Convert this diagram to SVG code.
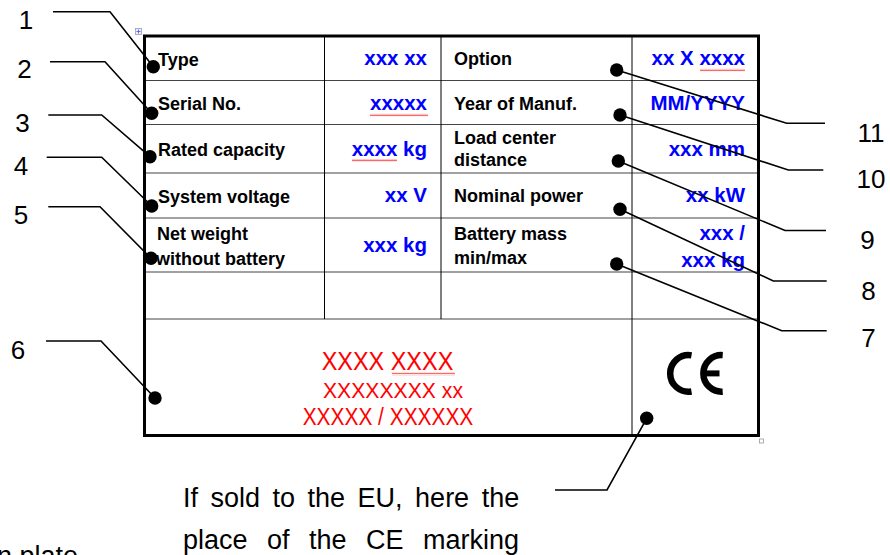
<svg xmlns="http://www.w3.org/2000/svg" width="890" height="555" viewBox="0 0 890 555">
<defs>
<pattern id="wavy" width="2" height="3" patternUnits="userSpaceOnUse">
<path d="M0,2.4 L1,0.6 L2,2.4" fill="none" stroke="#ff0000" stroke-width="0.6"/>
</pattern>
<style>
.num{font-family:"Liberation Sans",Arial,sans-serif;font-size:26px;fill:#000;text-anchor:middle}
.lbl{font-family:"Liberation Sans",Arial,sans-serif;font-size:18px;font-weight:bold;fill:#000}
.val{font-family:"Liberation Sans",Arial,sans-serif;font-size:20.5px;font-weight:bold;fill:#0000ff;text-anchor:end}
.red{font-family:"Liberation Sans Narrow","Arial Narrow","Liberation Sans",sans-serif;fill:#ff0000}
.note{font-family:"Liberation Sans",Arial,sans-serif;font-size:27px;fill:#000}
.conn{fill:none;stroke:#000;stroke-width:1.6}
.dot{fill:#000}
.grid{stroke:#444;stroke-width:1.2}
.wav{fill:url(#wavy)}
</style>
</defs>
<rect width="890" height="555" fill="#fff"/>

<g id="nameplate">
<rect x="135.5" y="28.5" width="6" height="6" fill="#eef0ff" stroke="#99a" stroke-width="0.8"/>
<path d="M138.5,29.5 V33.5 M136.5,31.5 H140.5" stroke="#3355ff" stroke-width="0.8"/>
<g class="grid">
<line x1="145" y1="80.5" x2="758" y2="80.5"/>
<line x1="145" y1="124.5" x2="758" y2="124.5"/>
<line x1="145" y1="173" x2="758" y2="173"/>
<line x1="145" y1="218" x2="758" y2="218"/>
<line x1="145" y1="272" x2="758" y2="272"/>
<line x1="145" y1="319" x2="758" y2="319"/>
<line x1="324.5" y1="36" x2="324.5" y2="319" stroke="#000" stroke-width="1"/>
<line x1="441" y1="36" x2="441" y2="319" stroke="#000" stroke-width="1"/>
<line x1="632" y1="36" x2="632" y2="436" stroke="#000" stroke-width="1"/>
</g>
<rect x="144.5" y="36" width="614" height="399.5" fill="none" stroke="#000" stroke-width="3"/>
<rect x="759.5" y="439" width="4" height="4" fill="#fff" stroke="#999" stroke-width="0.8"/>

<g id="row-type">
<text class="lbl" x="158" y="65.5">Type</text>
<text class="val" x="427" y="65">xxx xx</text>
<text class="lbl" x="454" y="65">Option</text>
<text class="val" x="745" y="65">xx X xxxx</text>
<rect class="wav" x="700" y="68.5" width="45" height="3"/>
</g>
<g id="row-serial">
<text class="lbl" x="158" y="110">Serial No.</text>
<text class="val" x="427" y="110">xxxxx</text>
<rect class="wav" x="370" y="113.5" width="58" height="3"/>
<text class="lbl" x="454" y="110">Year of Manuf.</text>
<text class="val" x="745" y="110">MM/YYYY</text>
</g>
<g id="row-capacity">
<text class="lbl" x="158" y="156">Rated capacity</text>
<text class="val" x="427" y="156">xxxx kg</text>
<rect class="wav" x="352" y="159" width="45" height="3"/>
<text class="lbl" x="454" y="144">Load center</text>
<text class="lbl" x="454" y="166">distance</text>
<text class="val" x="745" y="156">xxx mm</text>
</g>
<g id="row-voltage">
<text class="lbl" x="158" y="202.5">System voltage</text>
<text class="val" x="427" y="202">xx V</text>
<text class="lbl" x="454" y="202">Nominal power</text>
<text class="val" x="745" y="202">xx kW</text>
</g>
<g id="row-weight">
<text class="lbl" x="157" y="240">Net weight</text>
<text class="lbl" x="156" y="264.5">without battery</text>
<text class="val" x="427" y="252">xxx kg</text>
<text class="lbl" x="454" y="240">Battery mass</text>
<text class="lbl" x="454" y="263.5">min/max</text>
<text class="val" x="745" y="240">xxx /</text>
<text class="val" x="745" y="267">xxx kg</text>
</g>
<g id="manufacturer">
<text class="red" x="321.7" y="370" font-size="25" textLength="131.6" lengthAdjust="spacingAndGlyphs">XXXX XXXX</text>
<rect class="wav" x="392" y="372.5" width="63" height="3"/>
<text class="red" x="323" y="397.7" font-size="21.5" textLength="140" lengthAdjust="spacingAndGlyphs">XXXXXXXX xx</text>
<text class="red" x="302.7" y="425" font-size="23" textLength="170.6" lengthAdjust="spacingAndGlyphs">XXXXX / XXXXXX</text>
</g>
<g id="ce-mark" fill="none" stroke="#000" stroke-width="6.5">
<path d="M691.5,355.35 A18.3,18.3 0 1 0 691.5,391.45"/>
<path d="M722.7,355.13 A18.3,18.3 0 1 0 722.7,391.67"/>
<line x1="704" y1="373.4" x2="719.5" y2="373.4" stroke-width="6"/>
</g>
</g>

<g id="connectors" class="conn">
<polyline points="53,11.7 110,11.7 153.3,66.7"/>
<polyline points="50,61.7 105,61.7 151.7,113.3"/>
<polyline points="48.3,115 101.7,115 150,156.7"/>
<polyline points="46.7,157.3 101.7,157.3 151.7,206"/>
<polyline points="48.3,206.7 100,206.7 151,258.3"/>
<polyline points="46,341 101,341 155,398"/>
<polyline points="616.7,70 786.7,123.3 825,123.3"/>
<polyline points="620,115 788.3,170 823.3,170"/>
<polyline points="618.3,161 785,230.5 826,230.5"/>
<polyline points="620,209.3 773.3,281 826.7,281"/>
<polyline points="616.7,264 781.7,330.7 826.7,330.7"/>
<polyline points="646.7,418.3 607,490 555,490"/>
</g>

<g id="callout-1"><text class="num" x="26" y="28.5">1</text><circle class="dot" cx="153.3" cy="66.7" r="6.7"/></g>
<g id="callout-2"><text class="num" x="24.5" y="78">2</text><circle class="dot" cx="151.7" cy="113.3" r="6.7"/></g>
<g id="callout-3"><text class="num" x="22.5" y="131.5">3</text><circle class="dot" cx="150" cy="156.7" r="6.7"/></g>
<g id="callout-4"><text class="num" x="21" y="175">4</text><circle class="dot" cx="151.7" cy="206" r="6.7"/></g>
<g id="callout-5"><text class="num" x="21" y="223.5">5</text><circle class="dot" cx="151" cy="258.3" r="6.7"/></g>
<g id="callout-6"><text class="num" x="18" y="359">6</text><circle class="dot" cx="155" cy="398" r="6.7"/></g>
<g id="callout-11"><text class="num" x="871" y="141.5">11</text><circle class="dot" cx="616.7" cy="70" r="6.7"/></g>
<g id="callout-10"><text class="num" x="871" y="188">10</text><circle class="dot" cx="620" cy="115" r="6.7"/></g>
<g id="callout-9"><text class="num" x="867.5" y="248.5">9</text><circle class="dot" cx="618.3" cy="161" r="6.7"/></g>
<g id="callout-8"><text class="num" x="868.5" y="299.5">8</text><circle class="dot" cx="620" cy="209.3" r="6.7"/></g>
<g id="callout-7"><text class="num" x="868.5" y="347">7</text><circle class="dot" cx="616.7" cy="264" r="6.7"/></g>
<g id="callout-ce">
<circle class="dot" cx="646.7" cy="418.3" r="6.7"/>
<text class="note" x="183" y="507" word-spacing="5">If sold to the EU, here the</text>
<text class="note" x="183" y="548.5" word-spacing="12">place of the CE marking</text>
</g>
<text class="note" x="-3" y="565">n plate</text>
</svg>
